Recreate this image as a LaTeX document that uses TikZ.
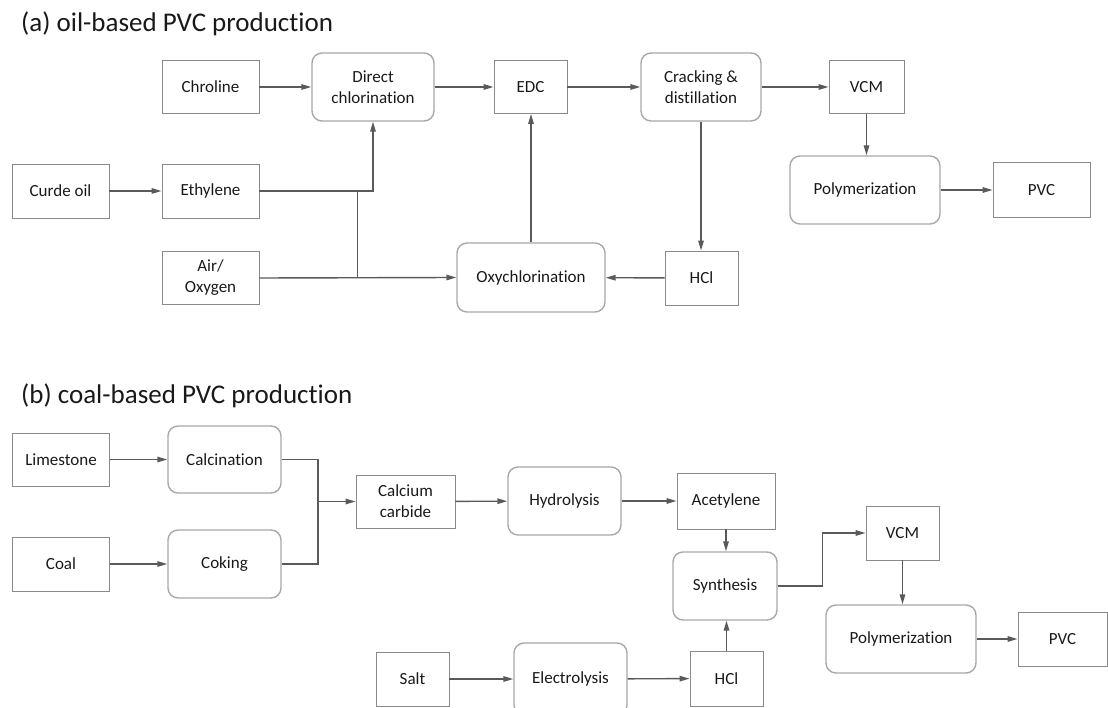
\documentclass[tikz,border=0pt]{standalone}
\usepackage{fontspec}
\setmainfont{Carlito}[Ligatures={NoCommon}]
\usepackage{tikz}
\usetikzlibrary{arrows.meta}
\usetikzlibrary{positioning}
\definecolor{boxgray}{HTML}{8A8A8A}
\definecolor{procgray}{HTML}{A8A8A8}
\definecolor{linegray}{HTML}{5A5A5A}

\begin{document}
\begin{tikzpicture}[x=1pt,y=-1pt,
        box/.style={draw=boxgray, line width=0.9pt, minimum width=97pt, minimum height=53pt,
            inner sep=0pt, align=center, text=black!90, font=\fontsize{17}{21}\selectfont},
        proc/.style={box, rounded corners=10pt, draw=procgray, line width=1.4pt},
        conn/.style={draw=linegray, line width=1.4pt},
        flow/.style={conn, -{Triangle[length=10pt,width=5.5pt]}},
        heading/.style={anchor=west, inner sep=0pt, text=black!90, font=\fontsize{27}{30}\selectfont}]
        \useasboundingbox (0,0) rectangle (1108,708);
        \clip (0,0) rectangle (1108,708);

        % (a) oil-based route
        \node[heading] (tita) at (21,24) {(a) oil-based PVC production};
        \node[box] (chrol) at (210.5,87) {Chroline};
        \node[proc, minimum width=122pt, minimum height=68pt] (dcl) at (373,87) {Direct\\chlorination};
        \node[box, minimum width=73pt] (edc) at (530.5,87) {EDC};
        \node[proc, minimum width=120pt, minimum height=68pt] (crack) at (701,87) {Cracking \&\\distillation};
        \node[box, minimum width=75pt] (vcma) at (866.5,87) {VCM};
        \node[box, minimum height=54pt] (oil) at (60.5,191) {Curde oil};
        \node[box, minimum height=54pt] (eth) at (210.5,191) {Ethylene};
        \node[proc, minimum width=150pt, minimum height=68pt] (polya) at (865,190) {Polymerization};
        \node[box, minimum height=55pt] (pvca) at (1041.5,190) {PVC};
        \node[box] (air) at (210.5,278) {Air/\\Oxygen};
        \node[proc, minimum width=148pt, minimum height=69pt] (oxy) at (531,277.5) {Oxychlorination};
        \node[box, minimum width=73pt, minimum height=54pt] (hcla) at (701.5,278) {HCl};
        \coordinate (ja) at (357.5,191);

        \draw[flow] (chrol) -- (dcl);
        \draw[flow] (dcl) -- (edc);
        \draw[flow] (edc) -- (crack);
        \draw[flow] (crack) -- (vcma);
        \draw[flow] (vcma.south) -- (vcma.south |- polya.north);
        \draw[flow] (polya) -- (pvca);
        \draw[flow] (oil) -- (eth);
        \draw[flow] (eth.east) -| (dcl.south);
        \draw[conn] (ja) -- (ja |- air.east);
        \draw[flow] (air.east) -- (oxy.west);
        \draw[flow] (oxy.north) -- (oxy.north |- edc.south);
        \draw[flow] (crack.south) -- (crack.south |- hcla.north);
        \draw[flow] (hcla) -- (oxy);

        % (b) coal-based route
        \node[heading] (titb) at (21,396) {(b) coal-based PVC production};
        \node[box] (lime) at (61,459.5) {Limestone};
        \node[proc, minimum width=113pt, minimum height=67pt] (calc) at (224.5,459.5) {Calcination};
        \node[box, minimum height=54pt] (coal) at (61,564) {Coal};
        \node[proc, minimum width=113pt, minimum height=68pt] (cok) at (224.5,564) {Coking};
        \node[box, minimum width=99pt] (carb) at (405.5,501.5) {Calcium\\carbide};
        \node[proc, minimum width=113pt, minimum height=68pt] (hydro) at (564.5,501) {Hydrolysis};
        \node[box, minimum width=98pt, minimum height=56pt] (acet) at (726,501) {Acetylene};
        \node[proc, minimum width=104pt, minimum height=68pt] (synth) at (725,586) {Synthesis};
        \node[box, minimum width=73pt, minimum height=54pt] (vcmb) at (902.5,533) {VCM};
        \node[proc, minimum width=150pt, minimum height=68pt] (polyb) at (901,639) {Polymerization};
        \node[box, minimum width=89pt, minimum height=54pt] (pvcb) at (1062.5,639) {PVC};
        \node[box, minimum width=73pt, minimum height=54pt] (salt) at (412.5,679) {Salt};
        \node[proc, minimum width=113pt, minimum height=72pt] (elec) at (570.5,679) {Electrolysis};
        \node[box, minimum width=73pt, minimum height=55pt] (hclb) at (726.5,678.5) {HCl};
        \coordinate (jb) at (318,501.5);

        \draw[flow] (lime) -- (calc);
        \draw[flow] (coal) -- (cok);
        \draw[conn] (calc.east) -| (jb);
        \draw[conn] (cok.east) -| (jb);
        \draw[flow] (jb) -- (carb.west);
        \draw[flow] (carb) -- (hydro);
        \draw[flow] (hydro) -- (acet);
        \draw[flow] (acet.south) -- (acet.south |- synth.north);
        \draw[flow] (hclb.north) -- (hclb.north |- synth.south);
        \draw[flow] (synth.east) -- ++(44.5,0) |- (vcmb.west);
        \draw[flow] (vcmb.south) -- (vcmb.south |- polyb.north);
        \draw[flow] (polyb) -- (pvcb);
        \draw[flow] (salt) -- (elec);
        \draw[flow] (elec) -- (hclb);
    \end{tikzpicture}
\end{document}
